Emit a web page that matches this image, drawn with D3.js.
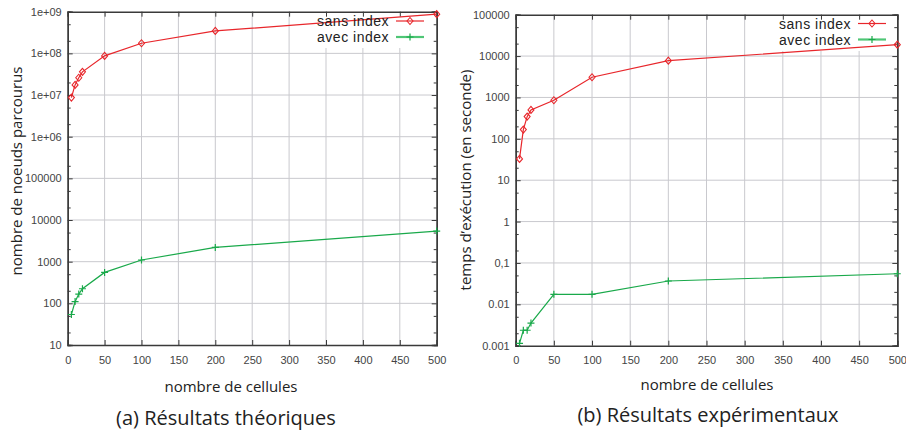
<!DOCTYPE html>
<html lang="fr">
<head>
<meta charset="UTF-8">
<title>Résultats</title>
<style>
  body { margin: 0; background: #fff; }
  .tick text { font-family: "Liberation Sans Narrow", "Liberation Sans", sans-serif; font-size: 11px; fill: #444; }
  .title { font-family: "Open Sans", "Noto Sans", sans-serif; fill: #222; }
  .legend { font-family: "Liberation Sans", sans-serif; fill: #222; letter-spacing: 0.5px; }
</style>
</head>
<body>
<script src="https://d3js.org/d3.v7.min.js"></script>
<script>
  // nombre de cellules
  const cells = [5, 10, 15, 20, 50, 100, 200, 500]

  // (a) théorique : noeuds parcourus
  const theoSans = [8.7e6, 1.75e7, 2.6e7, 3.6e7, 8.7e7, 1.75e8, 3.45e8, 8.7e8]
  const theoAvec = [54, 110, 167, 224, 553, 1096, 2200, 5420]

  // (b) expérimental : temps en secondes
  const expSans = [32.7, 167, 344, 499, 855, 3077, 7740, 18840]
  const expAvec = [0.00114, 0.00236, 0.00236, 0.00353, 0.0174, 0.0174, 0.0366, 0.0548]

  const xTicks = [0, 50, 100, 150, 200, 250, 300, 350, 400, 450, 500]
  const theoTicks = [10, 100, 1000, 10000, 100000, 1e6, 1e7, 1e8, 1e9]
  const theoTickLabels = ['10', '100', '1000', '10000', '100000', '1e+06', '1e+07', '1e+08', '1e+09']
  const expTicks = [0.001, 0.01, 0.1, 1, 10, 100, 1000, 10000, 100000]
  const expTickLabels = ['0.001', '0.01', '0,1', '1', '10', '100', '1000', '10000', '100000']

  const seriesNames = ['sans index', 'avec index']
  const red = '#e8262b'
  const green = '#19a94a'

  const svg = d3.select('body').append('svg')
    .attr('width', 906)
    .attr('height', 434)

  const panels = [
    {
      left: 67.7, right: 436.7, top: 11.7, bottom: 345,
      domain: [10, 1e9], ticks: theoTicks, labels: theoTickLabels,
      sans: theoSans, avec: theoAvec,
      ytitle: 'nombre de noeuds parcourus', ytx: 22, yty: 171,
      xtx: 231, xty: 392, cap: '(a) Résultats théoriques', capx: 226, capy: 425,
      legX: 389, legY: 21, box: [310, 12, 126, 36]
    },
    {
      left: 515.7, right: 897.3, top: 14.7, bottom: 345.7,
      domain: [0.001, 100000], ticks: expTicks, labels: expTickLabels,
      sans: expSans, avec: expAvec,
      ytitle: 'temps d\u2019exécution (en seconde)', ytx: 471, yty: 180,
      xtx: 707, xty: 390, cap: '(b) Résultats expérimentaux', capx: 708, capy: 422,
      legX: 851, legY: 23.5, box: [765, 15, 132, 36]
    }
  ]

  panels.forEach(p => {
    const x = d3.scaleLinear().domain([0, 500]).range([p.left, p.right])
    const y = d3.scaleLog().domain(p.domain).range([p.bottom, p.top])
    const g = svg.append('g')

    // grille
    g.append('g').selectAll('line.v')
      .data(xTicks.slice(1, -1))
      .join('line')
      .attr('x1', d => x(d)).attr('x2', d => x(d))
      .attr('y1', p.top).attr('y2', p.bottom)
      .attr('stroke', '#c9c9ce').attr('stroke-width', 1)
    g.append('g').selectAll('line.h')
      .data(p.ticks.slice(1, -1))
      .join('line')
      .attr('x1', p.left).attr('x2', p.right)
      .attr('y1', d => y(d)).attr('y2', d => y(d))
      .attr('stroke', '#c9c9ce').attr('stroke-width', 1)

    // fond de la légende
    g.append('rect')
      .attr('x', p.box[0]).attr('y', p.box[1])
      .attr('width', p.box[2]).attr('height', p.box[3])
      .attr('fill', '#fff')

    // axes
    g.append('g')
      .attr('transform', `translate(0,${p.bottom})`)
      .call(d3.axisBottom(x).tickValues(xTicks).tickSize(-5).tickPadding(11).tickFormat(d3.format('d')))
    g.append('g')
      .attr('transform', `translate(0,${p.top})`)
      .call(d3.axisTop(x).tickValues(xTicks).tickSize(-5).tickFormat(''))
    g.append('g')
      .attr('transform', `translate(${p.left},0)`)
      .call(d3.axisLeft(y).tickValues(p.ticks).tickSize(-5).tickPadding(6).tickFormat((d, i) => p.labels[i]))
    g.append('g')
      .attr('transform', `translate(${p.right},0)`)
      .call(d3.axisRight(y).tickValues(p.ticks).tickSize(-5).tickFormat(''))

    // petites graduations
    const minor = []
    p.ticks.slice(0, -1).forEach(t => { minor.push(t * 2, t * 5) })
    g.append('g').attr('transform', `translate(${p.left},0)`)
      .call(d3.axisLeft(y).tickValues(minor).tickSize(-3).tickFormat(''))
    g.append('g').attr('transform', `translate(${p.right},0)`)
      .call(d3.axisRight(y).tickValues(minor).tickSize(-3).tickFormat(''))

    g.selectAll('.domain').attr('stroke', '#3a3a3a').attr('stroke-width', 1.4)
    g.selectAll('.tick line').attr('stroke', '#3a3a3a')

    // courbes
    const line = d3.line().x(d => x(d[0])).y(d => y(d[1]))
    const draw = (vals, color, shape) => {
      const pts = cells.map((c, i) => [c, vals[i]])
      g.append('path').datum(pts)
        .attr('d', line).attr('fill', 'none')
        .attr('stroke', color).attr('stroke-width', 1.2)
      markers(g, pts.map(d => [x(d[0]), y(d[1])]), color, shape)
    }
    draw(p.sans, red, 'diamond')
    draw(p.avec, green, 'plus')

    // légende
    const leg = g.append('g')
    seriesNames.forEach((name, i) => {
      const ly = p.legY + i * 16
      leg.append('text')
        .attr('class', 'legend')
        .attr('x', p.legX).attr('y', ly + 5)
        .attr('text-anchor', 'end')
        .attr('font-size', 14)
        .text(name)
      const color = i === 0 ? red : green
      leg.append('line')
        .attr('x1', p.legX + 7).attr('x2', p.legX + 35)
        .attr('y1', ly).attr('y2', ly)
        .attr('stroke', i === 0 ? red : '#4fc676')
        .attr('stroke-width', i === 0 ? 1.2 : 2.2)
      markers(leg, [[p.legX + 21, ly]], color, i === 0 ? 'diamond' : 'plus')
    })

    // titres
    g.append('text').attr('class', 'title')
      .attr('transform', `translate(${p.ytx},${p.yty}) rotate(-90)`)
      .attr('text-anchor', 'middle').attr('font-size', 15)
      .text(p.ytitle)
    g.append('text').attr('class', 'title')
      .attr('x', p.xtx).attr('y', p.xty)
      .attr('text-anchor', 'middle').attr('font-size', 15)
      .text('nombre de cellules')
    g.append('text').attr('class', 'title')
      .attr('x', p.capx).attr('y', p.capy)
      .attr('text-anchor', 'middle').attr('font-size', 20)
      .text(p.cap)
  })

  function markers(g, pts, color, shape) {
    if (shape === 'diamond') {
      g.selectAll(null).data(pts).join('path')
        .attr('d', d => `M${d[0]},${d[1] - 3.5}L${d[0] + 3},${d[1]}L${d[0]},${d[1] + 3.5}L${d[0] - 3},${d[1]}Z`)
        .attr('fill', 'none').attr('stroke', color).attr('stroke-width', 1.1)
    } else {
      g.selectAll(null).data(pts).join('path')
        .attr('d', d => `M${d[0] - 3.5},${d[1]}H${d[0] + 3.5}M${d[0]},${d[1] - 3.5}V${d[1] + 3.5}`)
        .attr('fill', 'none').attr('stroke', color).attr('stroke-width', 1.2)
    }
  }
</script>
</body>
</html>
